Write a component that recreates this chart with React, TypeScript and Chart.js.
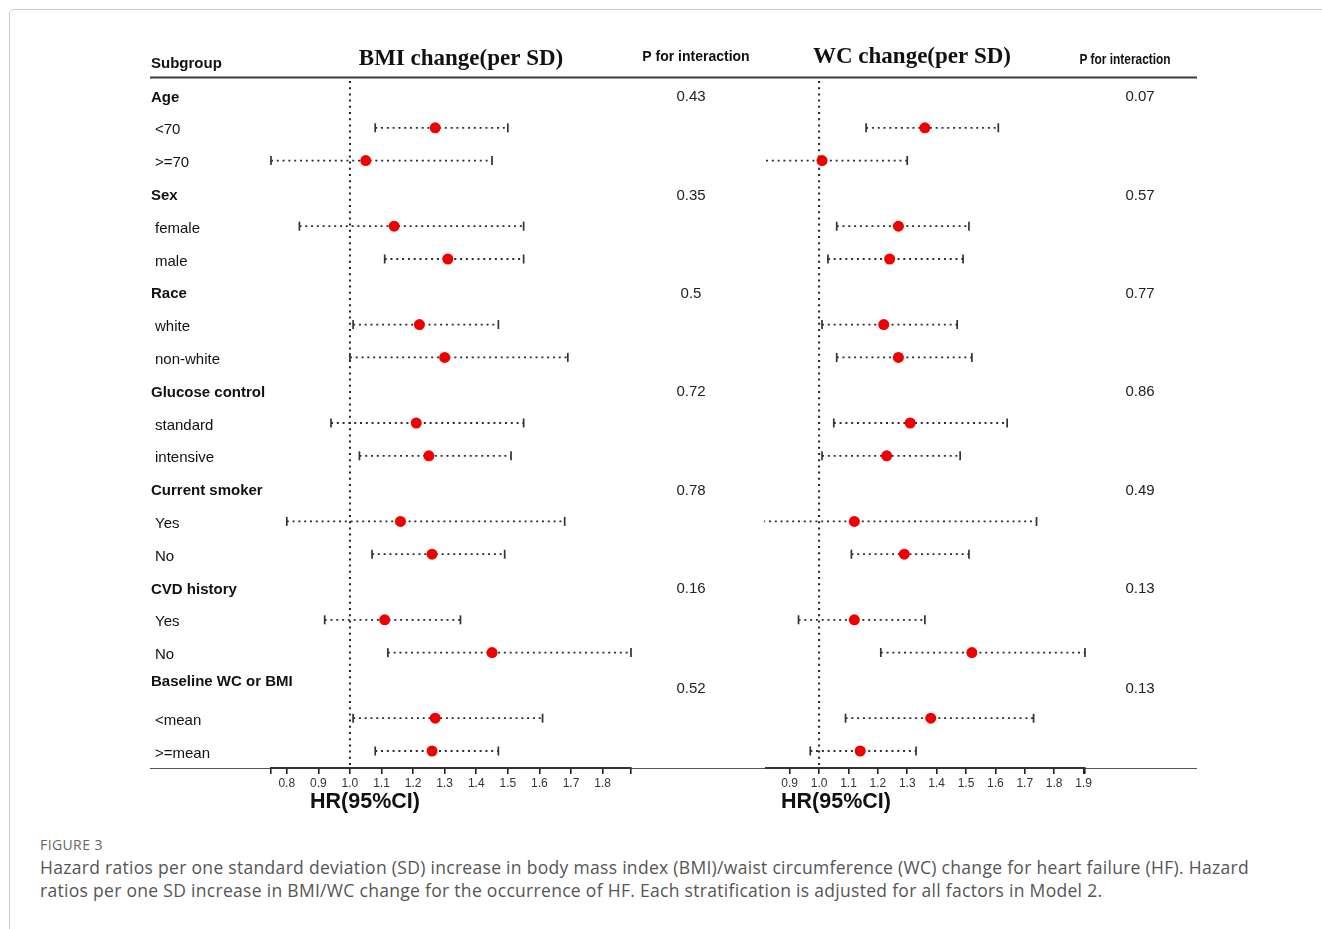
import React, { useEffect, useRef } from "react";
import { Chart, registerables } from "chart.js";
Chart.register(...registerables);

// ---------------- data ----------------
const ROW_LABELS = [
  "Age", "<70", ">=70",
  "Sex", "female", "male",
  "Race", "white", "non-white",
  "Glucose control", "standard", "intensive",
  "Current smoker", "Yes", "No",
  "CVD history", "Yes", "No",
  "Baseline WC or BMI", "<mean", ">=mean",
];
const HEADER_ROWS = [0, 3, 6, 9, 12, 15, 18];
const DATA_ROWS = [1, 2, 4, 5, 7, 8, 10, 11, 13, 14, 16, 17, 19, 20];

const BMI_HR = [1.27, 1.05, 1.14, 1.31, 1.22, 1.30, 1.21, 1.25, 1.16, 1.26, 1.11, 1.45, 1.27, 1.26];
const BMI_LO = [1.08, 0.75, 0.84, 1.11, 1.01, 1.00, 0.94, 1.03, 0.80, 1.07, 0.92, 1.12, 1.01, 1.08];
const BMI_HI = [1.50, 1.45, 1.55, 1.55, 1.47, 1.69, 1.55, 1.51, 1.68, 1.49, 1.35, 1.89, 1.61, 1.47];
const BMI_P = ["0.43", "0.35", "0.5", "0.72", "0.78", "0.16", "0.52"];

const WC_HR = [1.36, 1.01, 1.27, 1.24, 1.22, 1.27, 1.31, 1.23, 1.12, 1.29, 1.12, 1.52, 1.38, 1.14];
const WC_LO = [1.16, 0.78, 1.06, 1.03, 1.01, 1.06, 1.05, 1.01, 0.79, 1.11, 0.93, 1.21, 1.09, 0.97];
const WC_HI = [1.61, 1.30, 1.51, 1.49, 1.47, 1.52, 1.64, 1.48, 1.74, 1.51, 1.36, 1.905, 1.73, 1.33];
const WC_P = ["0.07", "0.57", "0.77", "0.86", "0.49", "0.13", "0.13"];

const BMI_TICKS = [0.8, 0.9, 1.0, 1.1, 1.2, 1.3, 1.4, 1.5, 1.6, 1.7, 1.8];
const BMI_MIN = 0.75;
const BMI_MAX = 1.89;
const WC_TICKS = [0.9, 1.0, 1.1, 1.2, 1.3, 1.4, 1.5, 1.6, 1.7, 1.8, 1.9];
const WC_MIN = 0.82;
const WC_MAX = 1.905;
const REF_VALUE = 1.0;

const Y_MIN = -0.579;
const Y_MAX = 20.518;

const SANS = '"Liberation Sans", Arial, sans-serif';
const SERIF = '"Liberation Serif", "Times New Roman", serif';

function txt(ctx: CanvasRenderingContext2D, s: string, x: number, y: number, font: string, color: string, align: CanvasTextAlign = "left", sx = 1) {
  ctx.save();
  ctx.font = font;
  ctx.fillStyle = color;
  ctx.textAlign = align;
  ctx.textBaseline = "middle";
  ctx.translate(x, y);
  ctx.scale(sx, 1);
  ctx.fillText(s, 0, 0);
  ctx.restore();
}

function hline(ctx: CanvasRenderingContext2D, x1: number, x2: number, y: number, w: number, color: string) {
  ctx.save();
  ctx.strokeStyle = color;
  ctx.lineWidth = w;
  ctx.beginPath();
  ctx.moveTo(x1, y);
  ctx.lineTo(x2, y);
  ctx.stroke();
  ctx.restore();
}

type Side = {
  offsetX: number;
  hr: number[];
  lo: number[];
  hi: number[];
  pvals: string[];
  ticks: number[];
  endTicks: number[];
  xmin: number;
  xmax: number;
  padding: { left: number; right: number; top: number; bottom: number };
  drawLabels: boolean;
  title: string;
  titleX: number;
  titleY: number;
  pHeadX: number;
  pHeadY: number;
  pHeadScale: number;
  pX: number;
  lineFrom: number;
  lineTo: number;
  hrX: number;
};

function buildChart(canvas: HTMLCanvasElement, s: Side) {
  const ox = s.offsetX;
  const datasets: any[] = [];
  datasets.push({
    data: DATA_ROWS.map((r, i) => ({ x: s.hr[i], y: r })),
    pointRadius: 5.5,
    pointHoverRadius: 5.5,
    pointBackgroundColor: "#f00000",
    pointBorderWidth: 0,
    showLine: false,
  });
  DATA_ROWS.forEach((r, i) => {
    const capLo = s.lo[i] < s.xmin ? 0 : 4.5;
    const capHi = s.hi[i] > s.xmax ? 0 : 4.5;
    datasets.push({
      data: [
        { x: s.lo[i], y: r },
        { x: s.hi[i], y: r },
      ],
      showLine: true,
      borderColor: "#2e2e2e",
      borderWidth: 1.8,
      borderDash: [2, 3.8],
      pointStyle: "line",
      pointRotation: 90,
      pointRadius: [capLo, capHi],
      pointHoverRadius: [capLo, capHi],
      pointBorderColor: "#333",
      pointBackgroundColor: "#333",
      pointBorderWidth: 1.7,
      fill: false,
      tension: 0,
      clip: { left: 2, right: 2, top: false, bottom: false },
    });
  });

  const allTicks = [...s.ticks, ...s.endTicks].sort((a, b) => a - b);

  const textPlugin = {
    id: "texts",
    beforeDraw(chart: any) {
      const ctx = chart.ctx as CanvasRenderingContext2D;
      hline(ctx, s.lineFrom - ox, s.lineTo - ox, 77.5, 2, "#3a3a3a");
      hline(ctx, s.lineFrom - ox, s.lineTo - ox, 768.5, 1.2, "#555");
    },
    beforeDatasetsDraw(chart: any) {
      const ctx = chart.ctx as CanvasRenderingContext2D;
      const xs = chart.scales.x;
      const px = xs.getPixelForValue(REF_VALUE);
      ctx.save();
      ctx.strokeStyle = "#222";
      ctx.lineWidth = 2;
      ctx.setLineDash([2, 4.2]);
      ctx.beginPath();
      ctx.moveTo(px, 81);
      ctx.lineTo(px, chart.chartArea.bottom);
      ctx.stroke();
      ctx.restore();
    },
    afterDraw(chart: any) {
      const ctx = chart.ctx as CanvasRenderingContext2D;
      const ys = chart.scales.y;
      if (s.drawLabels) {
        txt(ctx, "Subgroup", 151 - ox, 64, `bold 15px ${SANS}`, "#111");
        ROW_LABELS.forEach((lab, i) => {
          const isH = HEADER_ROWS.indexOf(i) >= 0;
          const y = ys.getPixelForValue(i) + (i === 18 ? -4 : 2.5);
          txt(ctx, lab, (isH ? 151 : 155) - ox, y, `${isH ? "bold " : ""}15px ${SANS}`, "#111");
        });
      }
      txt(ctx, s.title, s.titleX - ox, s.titleY, `bold 23px ${SERIF}`, "#111", "center");
      txt(ctx, "P for interaction", s.pHeadX - ox, s.pHeadY, `bold 14px ${SANS}`, "#111", "center", s.pHeadScale);
      HEADER_ROWS.forEach((r, k) => {
        const y = ys.getPixelForValue(r) + (r === 18 ? 3.5 : 2);
        txt(ctx, s.pvals[k], s.pX - ox, y, `15px ${SANS}`, "#222", "center");
      });
      txt(ctx, "HR(95%CI)", s.hrX - ox, 802, `bold 21.5px ${SANS}`, "#111", "left");
    },
  };

  return new Chart(canvas, {
    type: "scatter",
    data: { datasets },
    options: {
      animation: false,
      responsive: false,
      events: [],
      layout: { padding: s.padding },
      plugins: { legend: { display: false }, tooltip: { enabled: false } },
      scales: {
        x: {
          type: "linear",
          min: s.xmin,
          max: s.xmax,
          afterBuildTicks: (scale: any) => {
            scale.ticks = allTicks.map((v) => ({ value: v }));
          },
          afterFit: (scale: any) => {
            scale.height = 40;
          },
          ticks: {
            autoSkip: false,
            maxRotation: 0,
            minRotation: 0,
            padding: 2,
            color: "#333",
            font: { family: SANS, size: 12 },
            callback: (v: any) => (s.ticks.indexOf(v) >= 0 ? Number(v).toFixed(1) : ""),
          },
          grid: {
            display: true,
            drawOnChartArea: false,
            drawTicks: true,
            tickLength: 6,
            color: "#222",
            tickColor: "#222",
            tickWidth: 1.6,
            lineWidth: 1.6,
          },
          border: { display: true, color: "#333", width: 2 },
        },
        y: {
          type: "linear",
          min: Y_MIN,
          max: Y_MAX,
          reverse: true,
          display: false,
        },
      },
    } as any,
    plugins: [textPlugin],
  });
}

export default function App() {
  const leftRef = useRef<HTMLCanvasElement | null>(null);
  const rightRef = useRef<HTMLCanvasElement | null>(null);

  useEffect(() => {
    document.body.style.margin = "0";
    const left = buildChart(leftRef.current!, {
      offsetX: 0,
      hr: BMI_HR,
      lo: BMI_LO,
      hi: BMI_HI,
      pvals: BMI_P,
      ticks: BMI_TICKS,
      endTicks: [BMI_MIN, BMI_MAX],
      xmin: BMI_MIN,
      xmax: BMI_MAX,
      padding: { left: 271, right: 129, top: 76, bottom: 12 },
      drawLabels: true,
      title: "BMI change(per SD)",
      titleX: 461,
      titleY: 59,
      pHeadX: 696,
      pHeadY: 57,
      pHeadScale: 1,
      pX: 691,
      lineFrom: 150,
      lineTo: 760,
      hrX: 310,
    });
    const right = buildChart(rightRef.current!, {
      offsetX: 760,
      hr: WC_HR,
      lo: WC_LO,
      hi: WC_HI,
      pvals: WC_P,
      ticks: WC_TICKS,
      endTicks: [WC_MAX],
      xmin: WC_MIN,
      xmax: WC_MAX,
      padding: { left: 6, right: 237, top: 76, bottom: 12 },
      drawLabels: false,
      title: "WC change(per SD)",
      titleX: 912,
      titleY: 57,
      pHeadX: 1125,
      pHeadY: 60,
      pHeadScale: 0.85,
      pX: 1140,
      lineFrom: 760,
      lineTo: 1197,
      hrX: 781,
    });
    return () => {
      left.destroy();
      right.destroy();
    };
  }, []);

  return (
    <div style={{ position: "relative", width: 1322, height: 929, overflow: "hidden", background: "#fff" }}>
      <div
        style={{
          position: "absolute",
          left: 9,
          top: 9,
          width: 1400,
          height: 1000,
          border: "1px solid #cfcfcf",
          borderRadius: 5,
          boxSizing: "border-box",
        }}
      />
      <canvas ref={leftRef} width={760} height={820} style={{ position: "absolute", left: 0, top: 0, width: 760, height: 820 }} />
      <canvas ref={rightRef} width={562} height={820} style={{ position: "absolute", left: 760, top: 0, width: 562, height: 820 }} />
      <div
        style={{
          position: "absolute",
          left: 40,
          top: 836,
          fontFamily: '"Open Sans", sans-serif',
          fontSize: 14,
          color: "#666",
          letterSpacing: 0.4,
          lineHeight: "17px",
        }}
      >
        FIGURE 3
      </div>
      <div
        style={{
          position: "absolute",
          left: 40,
          top: 856,
          fontFamily: '"Open Sans", sans-serif',
          fontSize: 17.5,
          letterSpacing: 0.3,
          color: "#555",
          lineHeight: "23px",
          whiteSpace: "nowrap",
        }}
      >
        <div>Hazard ratios per one standard deviation (SD) increase in body mass index (BMI)/waist circumference (WC) change for heart failure (HF). Hazard</div>
        <div>ratios per one SD increase in BMI/WC change for the occurrence of HF. Each stratification is adjusted for all factors in Model 2.</div>
      </div>
    </div>
  );
}
